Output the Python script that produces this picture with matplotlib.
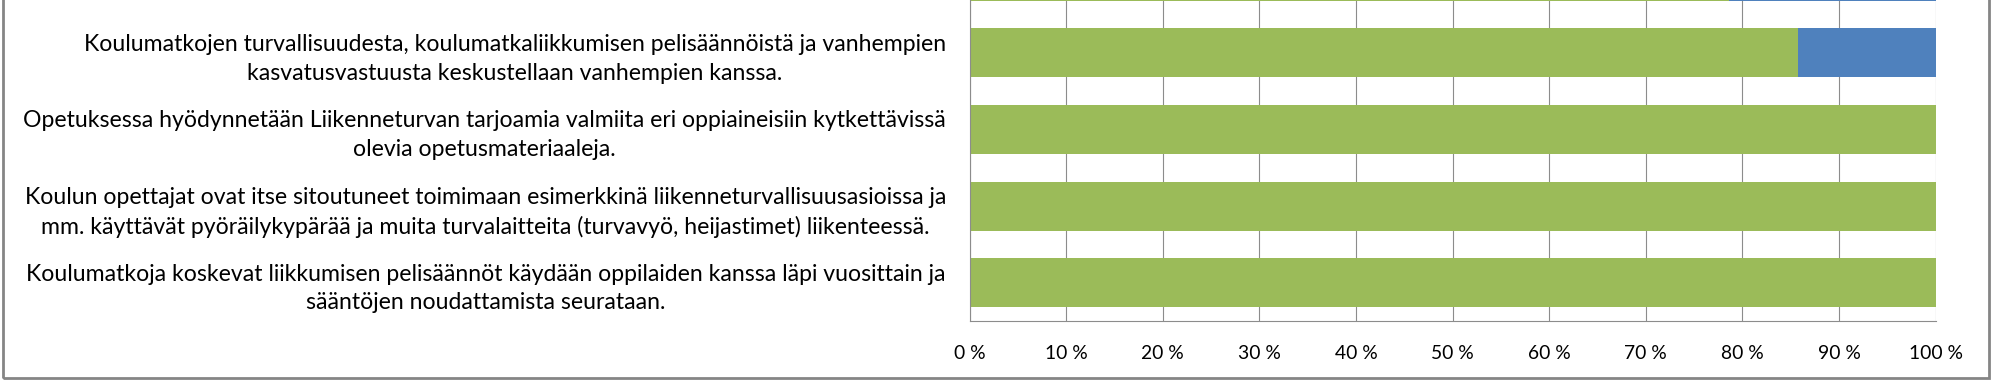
import matplotlib
matplotlib.use("Agg")
import matplotlib.pyplot as plt
from matplotlib.patches import Rectangle

# ---- data ----
categories = [
    "",
    "Koulumatkojen turvallisuudesta, koulumatkaliikkumisen pelisäännöistä ja vanhempien\nkasvatusvastuusta keskustellaan vanhempien kanssa.",
    "Opetuksessa hyödynnetään Liikenneturvan tarjoamia valmiita eri oppiaineisiin kytkettävissä\nolevia opetusmateriaaleja.",
    "Koulun opettajat ovat itse sitoutuneet toimimaan esimerkkinä liikenneturvallisuusasioissa ja\nmm. käyttävät pyöräilykypärää ja muita turvalaitteita (turvavyö, heijastimet) liikenteessä.",
    "Koulumatkoja koskevat liikkumisen pelisäännöt käydään oppilaiden kanssa läpi vuosittain ja\nsääntöjen noudattamista seurataan.",
]
green_values = [78.6, 85.7, 100, 100, 100]
blue_values = [21.4, 14.3, 0, 0, 0]
xtick_values = [0, 10, 20, 30, 40, 50, 60, 70, 80, 90, 100]
xtick_labels = ["0 %", "10 %", "20 %", "30 %", "40 %", "50 %", "60 %", "70 %", "80 %", "90 %", "100 %"]

GREEN = "#9BBB59"
BLUE = "#4F81BD"
GRID = "#8C8C8C"
FONT = ["Lato", "DejaVu Sans"]

W, H, DPI = 1991, 380, 100
fig = plt.figure(figsize=(W / DPI, H / DPI), dpi=DPI)
fig.patch.set_facecolor("white")

# fit font sizes to measured widths
renderer = fig.canvas.get_renderer()
def fit_size(s, target_px, base=16):
    t = fig.text(0, 0, s, fontsize=base, family=FONT)
    w = t.get_window_extent(renderer).width
    t.remove()
    return base * target_px / w

label_fs = fit_size(categories[3].split("\n")[0], 924)
tick_fs = fit_size("100 %", 54)

left_px, right_px, bottom_px = 969.5, 1935.7, 321
ax = fig.add_axes([left_px / W, (H - bottom_px) / H, (right_px - left_px) / W, bottom_px / H])

pos = list(range(len(categories)))
ax.barh(pos, green_values, height=0.64, color=GREEN, linewidth=0, zorder=2)
ax.barh(pos, blue_values, left=green_values, height=0.64, color=BLUE, linewidth=0, zorder=2)

ax.set_xticks(xtick_values)
ax.set_xticklabels(xtick_labels, family=FONT, fontsize=tick_fs, color="#000000")
ax.set_yticks(pos)
ax.set_yticklabels(categories, family=FONT, fontsize=label_fs, color="#000000",
                   multialignment="center", linespacing=1.45)
ax.set_xlim(0, 100)
ax.set_ylim(4.5, 0.31)
ax.tick_params(axis="both", length=0)
ax.tick_params(axis="y", pad=17)
ax.tick_params(axis="x", pad=17)

ax.grid(axis="x", color=GRID, linewidth=0.8, zorder=0)
ax.set_axisbelow(True)
for side in ["top", "right"]:
    ax.spines[side].set_visible(False)
for side in ["left", "bottom"]:
    ax.spines[side].set_color(GRID)
    ax.spines[side].set_linewidth(0.8)

# outer chart-area border (cropped at top)
border = Rectangle((2.5 / W, (H - 377.5) / H), (1988.5 - 2.5) / W, 1.0,
                   transform=fig.transFigure, fill=False, edgecolor="#858585",
                   linewidth=2.0, clip_on=False)
fig.patches.append(border)

fig.savefig("out.png", dpi=DPI)
